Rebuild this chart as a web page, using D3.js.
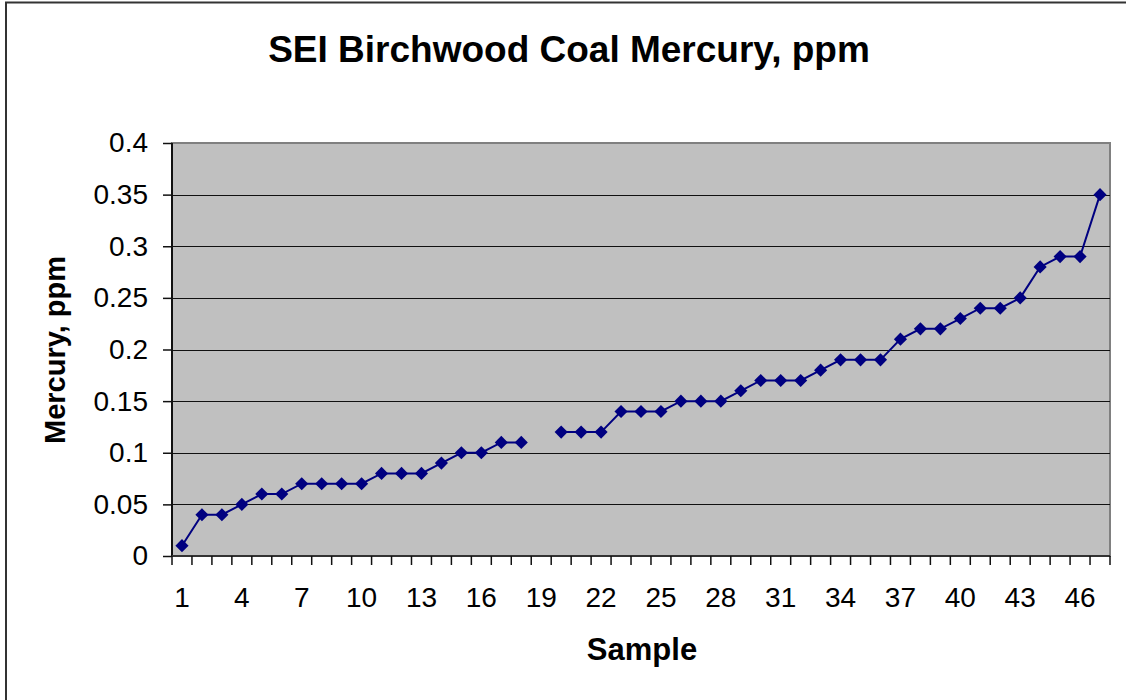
<!DOCTYPE html>
<html>
<head>
<meta charset="utf-8">
<script src="https://cdn.jsdelivr.net/npm/d3@7"></script>
<style>
  body { margin: 0; background: #fff; }
  text { font-family: "Liberation Sans", Arial, sans-serif; }
</style>
</head>
<body>
<div id="wrapper"></div>
<script>
// data
const samples = d3.range(1, 48)
const mercury = [0.01, 0.04, 0.04, 0.05, 0.06, 0.06, 0.07, 0.07, 0.07, 0.07,
    0.08, 0.08, 0.08, 0.09, 0.10, 0.10, 0.11, 0.11, null, 0.12,
    0.12, 0.12, 0.14, 0.14, 0.14, 0.15, 0.15, 0.15, 0.16, 0.17,
    0.17, 0.17, 0.18, 0.19, 0.19, 0.19, 0.21, 0.22, 0.22, 0.23,
    0.24, 0.24, 0.25, 0.28, 0.29, 0.29, 0.35]
const yTicks = [0, 0.05, 0.1, 0.15, 0.2, 0.25, 0.3, 0.35, 0.4]
const xLabelEvery = 3

const dataset = samples.map((s, i) => ({ sample: s, value: mercury[i] }))
const xAccessor = d => d.sample
const yAccessor = d => d.value

let dimensions = {
    width: 1126,
    height: 700,
    margin: { top: 143, right: 16, bottom: 144, left: 172 },
}
dimensions.boundedWidth = dimensions.width - dimensions.margin.left - dimensions.margin.right
dimensions.boundedHeight = dimensions.height - dimensions.margin.top - dimensions.margin.bottom

const wrapper = d3.select("#wrapper")
    .append("svg")
    .attr("width", dimensions.width)
    .attr("height", dimensions.height)

// outer frame (only top + left edges show)
wrapper.append("path")
    .attr("d", `M6,700 L6,2.5 L1126,2.5`)
    .attr("fill", "none")
    .attr("stroke", "#333")
    .attr("stroke-width", 2)

const bounds = wrapper.append("g")
    .attr("transform", `translate(${dimensions.margin.left},${dimensions.margin.top})`)

const xScaler = d3.scaleBand()
    .domain(samples)
    .range([0, dimensions.boundedWidth])

const yScaler = d3.scaleLinear()
    .domain([0, 0.4])
    .range([dimensions.boundedHeight, 0])

// plot background
bounds.append("rect")
    .attr("width", dimensions.boundedWidth)
    .attr("height", dimensions.boundedHeight)
    .attr("fill", "#c0c0c0")
    .attr("stroke", "#808080")
    .attr("stroke-width", 2)

// gridlines
bounds.append("g")
    .selectAll("line")
    .data(yTicks.filter(t => t > 0 && t < 0.4))
    .join("line")
    .attr("x1", 0)
    .attr("x2", dimensions.boundedWidth)
    .attr("y1", d => Math.round(yScaler(d)) + 0.5)
    .attr("y2", d => Math.round(yScaler(d)) + 0.5)
    .attr("stroke", "#111")
    .attr("stroke-width", 1.2)

// y axis
const yAxisGen = d3.axisLeft(yScaler)
    .tickValues(yTicks)
    .tickSize(9)
    .tickPadding(15)
    .tickFormat(d => String(+d.toFixed(2)))
const yAxis = bounds.append("g").call(yAxisGen)
yAxis.select(".domain").attr("stroke", "#111").attr("stroke-width", 2).attr("d", `M0,0V${dimensions.boundedHeight}`)
yAxis.selectAll(".tick line").attr("stroke", "#111").attr("stroke-width", 1.5)
yAxis.selectAll("text")
    .attr("font-size", "28px")
    .attr("fill", "#000")
    .attr("font-family", "Liberation Sans, Arial, sans-serif")

// x axis: ticks between categories, labels every 3rd
const xAxis = bounds.append("g")
    .attr("transform", `translate(0,${dimensions.boundedHeight})`)
xAxis.append("line")
    .attr("x1", 0).attr("x2", dimensions.boundedWidth)
    .attr("stroke", "#333").attr("stroke-width", 2)
xAxis.selectAll(".xtick")
    .data(samples.concat([null]))
    .join("line")
    .attr("class", "xtick")
    .attr("x1", (d, i) => i === samples.length ? dimensions.boundedWidth : xScaler(d))
    .attr("x2", (d, i) => i === samples.length ? dimensions.boundedWidth : xScaler(d))
    .attr("y1", 0).attr("y2", 9)
    .attr("stroke", "#111").attr("stroke-width", 1.5)
xAxis.selectAll(".xlabel")
    .data(samples.filter((s, i) => i % xLabelEvery === 0))
    .join("text")
    .attr("class", "xlabel")
    .attr("x", d => xScaler(d) + xScaler.bandwidth() / 2)
    .attr("y", 51)
    .attr("text-anchor", "middle")
    .attr("font-size", "28px")
    .attr("fill", "#000")
    .text(d => d)

// line + markers
const lineGen = d3.line()
    .defined(d => yAccessor(d) !== null)
    .x(d => xScaler(xAccessor(d)) + xScaler.bandwidth() / 2)
    .y(d => yScaler(yAccessor(d)))

bounds.append("path")
    .attr("d", lineGen(dataset))
    .attr("fill", "none")
    .attr("stroke", "#000080")
    .attr("stroke-width", 2)

const diamond = d3.symbol().type(d3.symbolDiamond2).size(110)
bounds.append("g")
    .selectAll("path")
    .data(dataset.filter(d => yAccessor(d) !== null))
    .join("path")
    .attr("transform", d => `translate(${xScaler(xAccessor(d)) + xScaler.bandwidth() / 2},${yScaler(yAccessor(d))})`)
    .attr("d", diamond)
    .attr("fill", "#000080")

// titles
wrapper.append("text")
    .attr("x", 569)
    .attr("y", 62)
    .attr("text-anchor", "middle")
    .attr("font-size", "37px")
    .attr("font-weight", "bold")
    .text("SEI Birchwood Coal Mercury, ppm")

wrapper.append("text")
    .attr("x", 642)
    .attr("y", 660)
    .attr("text-anchor", "middle")
    .attr("font-size", "31px")
    .attr("font-weight", "bold")
    .text("Sample")

wrapper.append("text")
    .attr("transform", `translate(65,350) rotate(-90)`)
    .attr("text-anchor", "middle")
    .attr("font-size", "29px")
    .attr("font-weight", "bold")
    .text("Mercury, ppm")
</script>
</body>
</html>
